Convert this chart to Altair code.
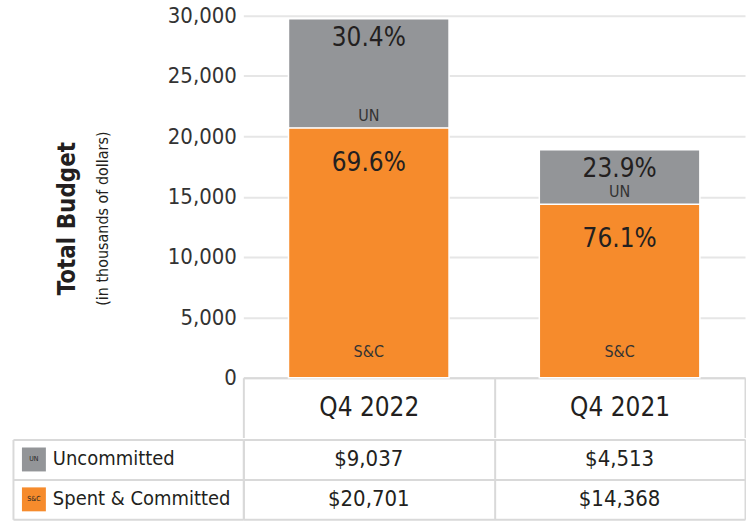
import altair as alt
import pandas as pd

# ---- data ----
periods = ["Q4 2022", "Q4 2021"]
series = ["Uncommitted", "Spent & Committed"]
short_labels = ["UN", "S&C"]
uncommitted = [9037, 4513]
spent_committed = [20701, 14368]
pct_uncommitted = ["30.4%", "23.9%"]
pct_spent = ["69.6%", "76.1%"]
y_ticks = [0, 5000, 10000, 15000, 20000, 25000, 30000]

rows = []
for i, p in enumerate(periods):
    rows.append(dict(period=p, series=series[0], short=short_labels[0],
                     value=uncommitted[i], pct=pct_uncommitted[i], stack_order=1))
    rows.append(dict(period=p, series=series[1], short=short_labels[1],
                     value=spent_committed[i], pct=pct_spent[i], stack_order=0))
df = pd.DataFrame(rows)

FONT = "DejaVu Sans Condensed, Liberation Sans, sans-serif"
GRAY = "#939598"
ORANGE = "#F68B2C"
LINE = "#D9D9D9"
GRID = "#E6E6E6"
TXT = "#231F20"

x_scale = alt.Scale(domain=periods, paddingInner=0, paddingOuter=0)
color_scale = alt.Scale(domain=series, range=[GRAY, ORANGE])
y_scale = alt.Scale(domain=[0, 30000], nice=False)

base = alt.Chart(df).transform_stack(
    stack="value", groupby=["period"],
    sort=[alt.SortField("stack_order", order="ascending")],
    as_=["v0", "v1"],
)

x_enc = alt.X("period:N", sort=periods, scale=x_scale, title=None,
              axis=alt.Axis(orient="bottom", labelFontSize=26, labelColor=TXT,
                            labelPadding=-30, labelBaseline="middle",
                            tickBand="extent", tickSize=60, tickColor=LINE, tickWidth=2,
                            domainColor=LINE, domainWidth=2, labelAngle=0))
y_axis = alt.Axis(values=y_ticks, format=",d", grid=True, gridColor=GRID, gridWidth=2,
                  ticks=False, domain=False, labelFontSize=22, labelColor="#333333",
                  labelPadding=7)

bars = base.mark_bar(size=161, stroke="white", strokeWidth=1.5).encode(
    x=x_enc,
    y=alt.Y("v0:Q", scale=y_scale, axis=y_axis, title=None),
    y2="v1:Q",
    color=alt.Color("series:N", scale=color_scale, legend=None),
    order=alt.Order("stack_order:Q"),
)

pct_un = base.transform_filter(alt.datum.series == series[0]).mark_text(
    baseline="top", dy=6, fontSize=26, color=TXT).encode(
    x=alt.X("period:N", sort=periods), y=alt.Y("v1:Q", title=None), text="pct:N")
pct_sc = base.transform_filter(alt.datum.series == series[1]).mark_text(
    baseline="top", dy=22, fontSize=26, color=TXT).encode(
    x=alt.X("period:N", sort=periods), y=alt.Y("v1:Q", title=None), text="pct:N")
lbl_un = base.transform_filter(alt.datum.series == series[0]).mark_text(
    baseline="bottom", dy=-4, fontSize=16, color="#333333").encode(
    x=alt.X("period:N", sort=periods), y=alt.Y("v0:Q", title=None), text="short:N")
lbl_sc = base.transform_filter(alt.datum.series == series[1]).mark_text(
    baseline="bottom", dy=-18, fontSize=16, color="#333333").encode(
    x=alt.X("period:N", sort=periods), y=alt.Y("v0:Q", title=None), text="short:N")

top = alt.layer(bars, pct_un, pct_sc, lbl_un, lbl_sc).properties(
    width=503, height=363,
    title=alt.TitleParams(text="Total Budget", subtitle="(in thousands of dollars)",
                          orient="left", anchor="middle", fontSize=24,
                          fontWeight="bold", color=TXT, subtitleFontSize=16,
                          subtitleColor=TXT, subtitlePadding=16, offset=56, dx=-22),
)

# ---- table below the bars ----
row_scale = alt.Scale(domain=series, paddingInner=0, paddingOuter=0)
table_base = alt.Chart(df)
table_vals = table_base.mark_text(fontSize=22, color=TXT).encode(
    x=alt.X("period:N", sort=periods, scale=x_scale, title=None,
            axis=alt.Axis(orient="top", grid=True, gridColor=LINE, gridWidth=2,
                          tickBand="extent", labels=False, ticks=False, domain=False)),
    y=alt.Y("series:N", sort=series, scale=row_scale, title=None,
            axis=alt.Axis(orient="left", tickBand="extent", tickSize=231, tickColor=LINE,
                          tickWidth=2, grid=True, gridColor=LINE, gridWidth=2,
                          domainColor=LINE, domainWidth=2, labels=False)),
    text=alt.Text("value:Q", format="$,d"),
)
first_col = table_base.transform_filter(alt.datum.period == periods[0])
table_keys = first_col.mark_square(size=576, opacity=1, filled=True).encode(
    x=alt.value(-210),
    y=alt.Y("series:N", sort=series, title=None,
            axis=alt.Axis(orient="left", offset=231, labels=False, ticks=False,
                          grid=False, domainColor=LINE, domainWidth=2)),
    color=alt.Color("series:N", scale=color_scale, legend=None),
)
table_mini = first_col.mark_text(fontSize=7, color=TXT).encode(
    x=alt.value(-210), y=alt.Y("series:N", sort=series, title=None, axis=None),
    text="short:N")
table_names = first_col.mark_text(fontSize=20, color=TXT, align="left").encode(
    x=alt.value(-191), y=alt.Y("series:N", sort=series, title=None, axis=None),
    text="series:N")

table = alt.layer(table_vals, table_keys, table_mini, table_names).resolve_axis(
    y="independent").properties(width=503, height=80)

chart = alt.vconcat(top, table, spacing=0).properties(
    padding={"left": 12, "top": 4, "right": 0, "bottom": 0}
).configure(font=FONT).configure_view(stroke=None)

chart.save("out.html", embed_options={"renderer": "svg", "actions": False})
